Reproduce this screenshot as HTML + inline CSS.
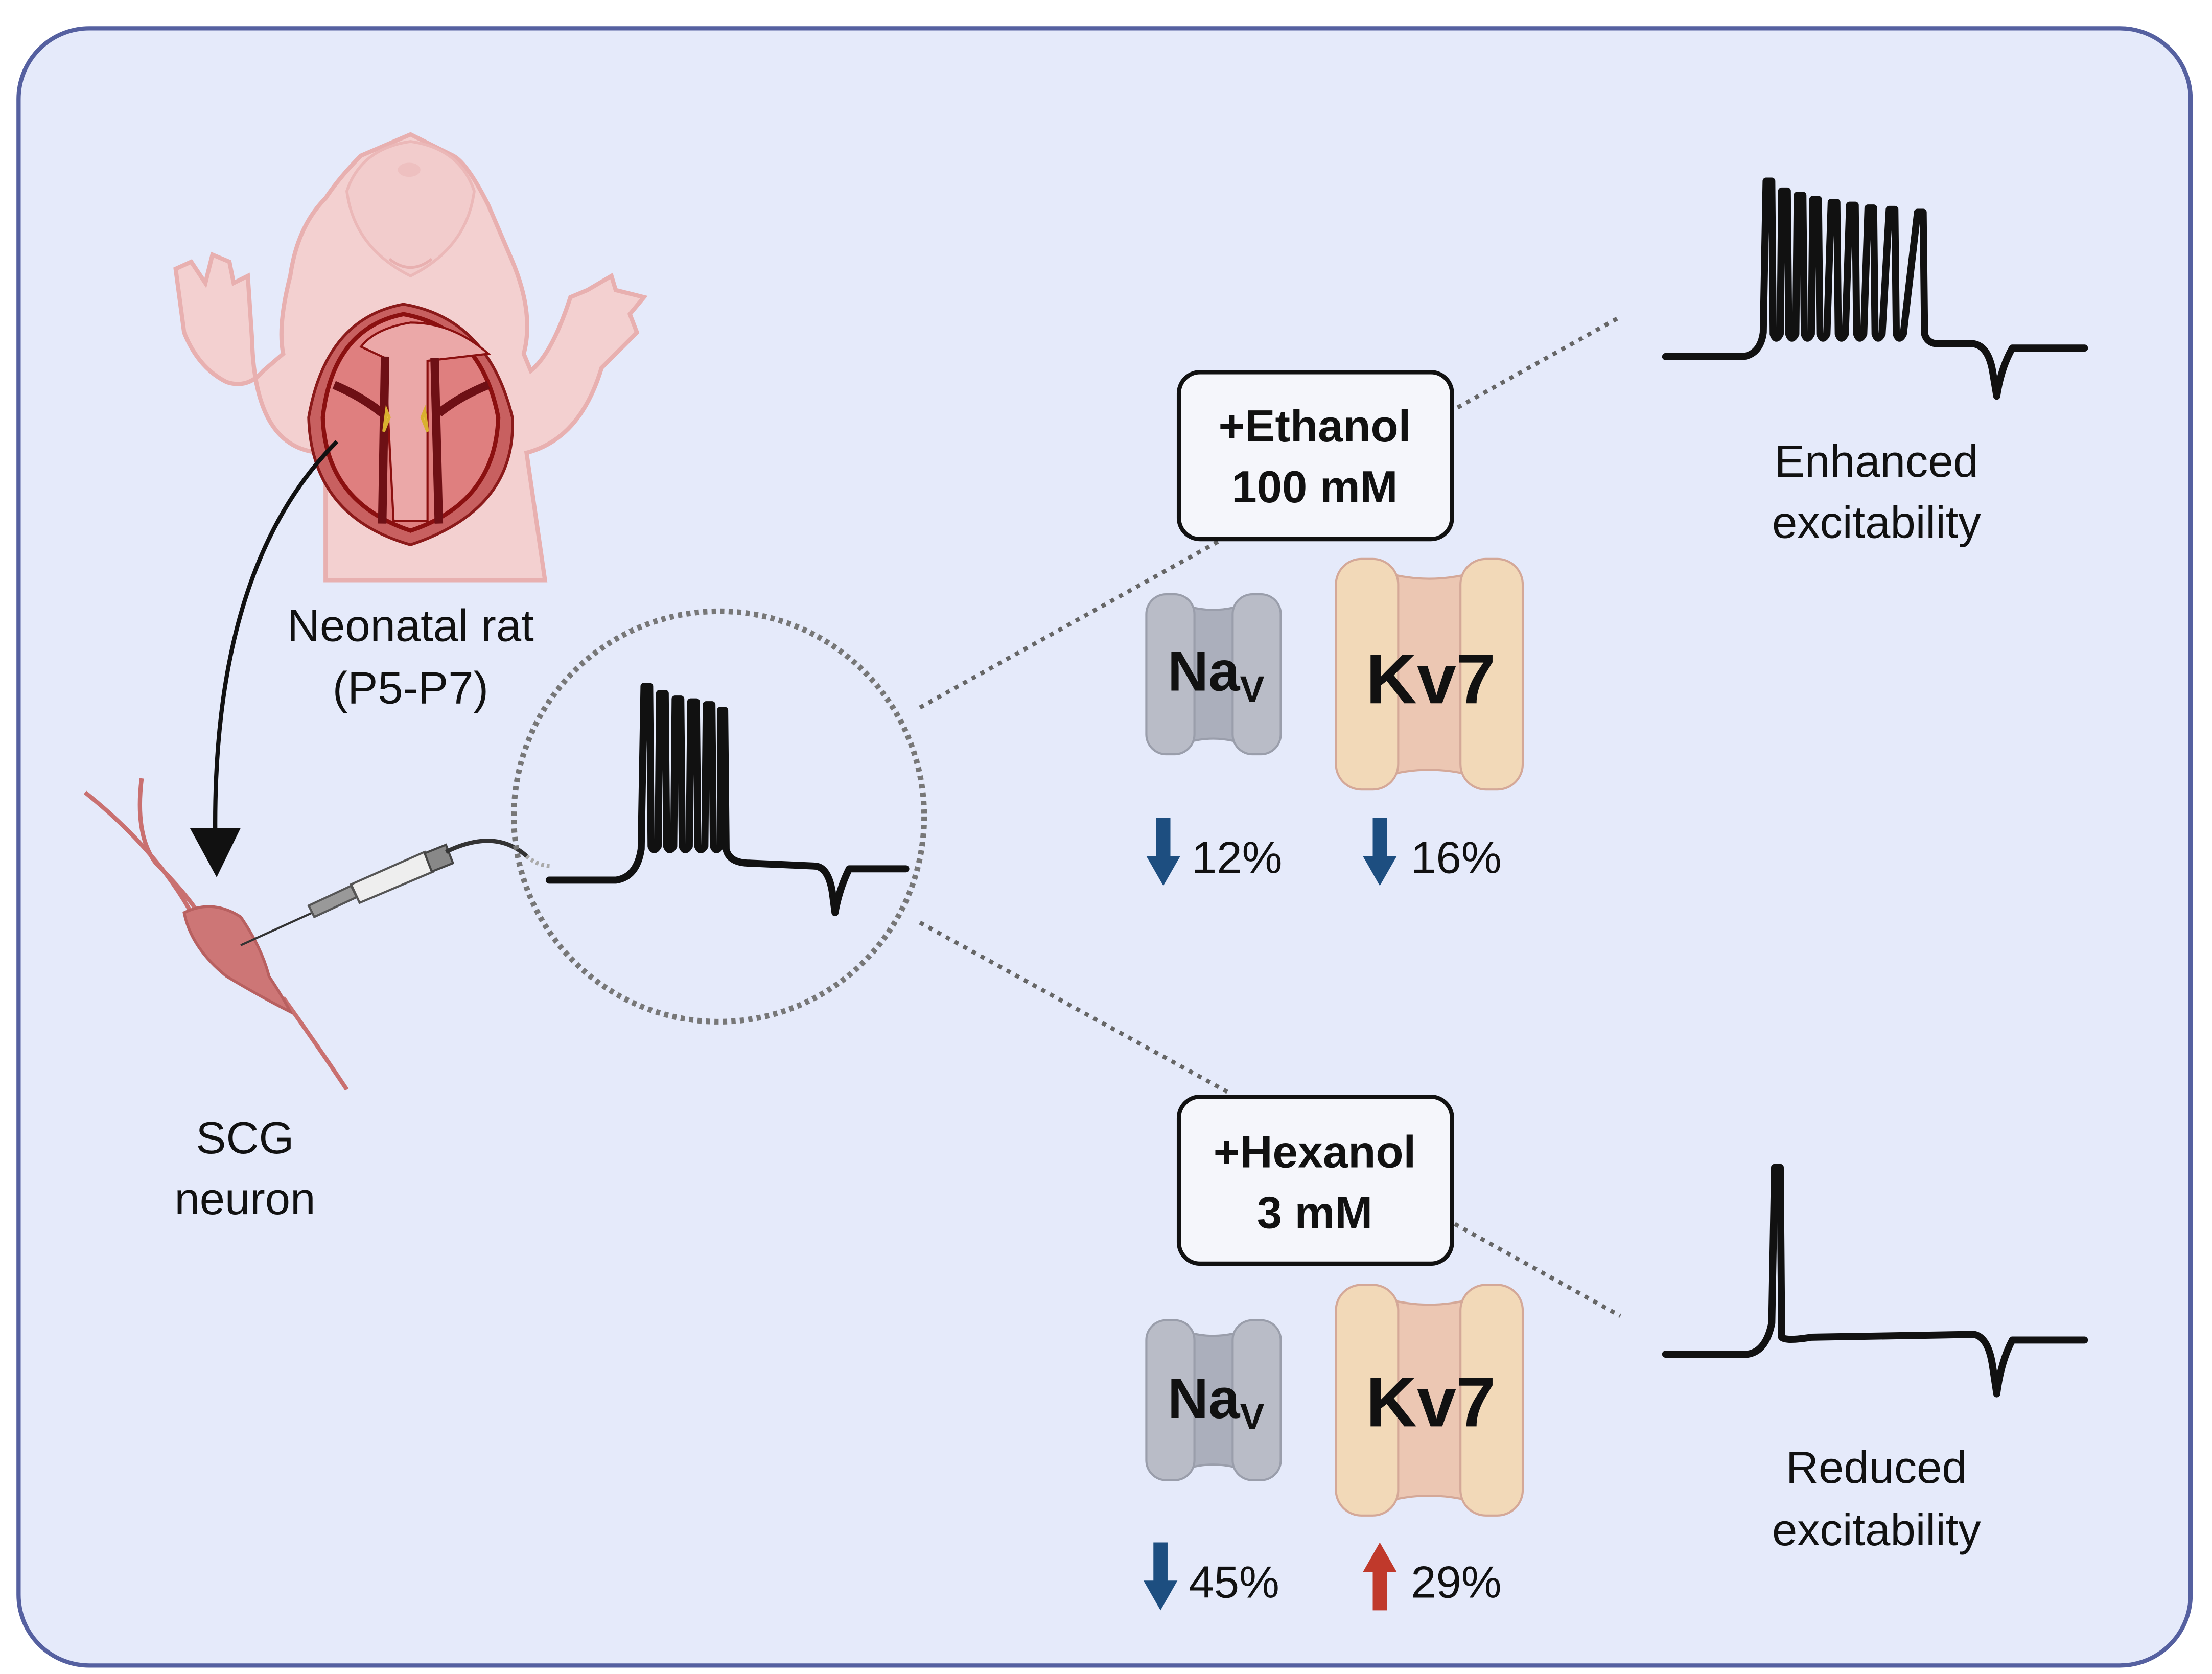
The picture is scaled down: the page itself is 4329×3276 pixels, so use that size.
<!DOCTYPE html>
<html><head><meta charset="utf-8">
<style>
html,body{margin:0;padding:0;background:#fff;}
svg{display:block;}
text{font-family:"Liberation Sans",sans-serif;}
</style></head>
<body>
<svg width="4329" height="3276" viewBox="0 0 1563 1183" xmlns="http://www.w3.org/2000/svg">
<rect x="13" y="20" width="1535" height="1157" rx="50" fill="#e5eafa" stroke="#5560a0" stroke-width="3"/>

<!-- Rat -->
<g stroke="#e8b0b0" stroke-width="3" fill="#f3d0d0">
  <path d="M130,235 L124,190 L135,185 L145,200 L150,180 L162,185 L165,200 L175,195 L178,240 Q180,320 230,320 L230,410 L385,410 L372,320 Q410,310 425,260 L450,235 L445,222 L455,210 L435,205 L432,195 L415,205 L403,210 Q390,250 375,262 L370,250 Q378,220 360,180 L345,145 Q330,115 320,110 L290,95 L255,110 Q240,125 230,140 Q210,160 205,195 Q196,230 200,250 L186,262 Q175,275 160,270 Q140,260 130,235 Z"/>
</g>
<path d="M245,135 Q255,105 290,100 Q325,105 335,135 Q330,175 290,195 Q250,175 245,135 Z" fill="#f2cccc" stroke="#ebb8b8" stroke-width="2"/>
<path d="M275,183 Q290,195 305,183" fill="none" stroke="#e8b0b0" stroke-width="2"/>
<ellipse cx="289" cy="120" rx="8" ry="5" fill="#eec0c0"/>
<!-- chest opening -->
<path d="M285,215 Q345,225 362,295 Q365,360 290,385 Q220,365 218,295 Q230,225 285,215 Z" fill="#c86060" stroke="#8b1a1a" stroke-width="2"/>
<path d="M285,222 Q340,232 352,295 Q350,355 290,375 Q230,355 228,295 Q235,232 285,222 Z" fill="#df7f7f" stroke="#8b1010" stroke-width="3"/>
<path d="M255,245 L272,253 L278,368 L302,368 L302,255 L345,250 Q320,228 290,228 Q265,232 255,245 Z" fill="#eba8a8" stroke="#8b1010" stroke-width="1.5"/>
<path d="M272,252 L270,370 M307,253 L310,370" stroke="#6e1015" stroke-width="6" fill="none"/>
<path d="M236,272 Q255,280 270,292 M345,272 Q325,280 310,292" stroke="#6e1015" stroke-width="6" fill="none"/>
<path d="M273,290 L271,305 L275,295 Z M300,290 L302,305 L298,295 Z" fill="#f5d050" stroke="#d9b030" stroke-width="2"/>

<!-- Labels -->
<g font-size="32" fill="#111" text-anchor="middle">
<text x="290" y="453">Neonatal rat</text>
<text x="290" y="497">(P5-P7)</text>
<text x="173" y="815">SCG</text>
<text x="173" y="858">neuron</text>
<text x="1326" y="337">Enhanced</text>
<text x="1326" y="380">excitability</text>
<text x="1326" y="1048">Reduced</text>
<text x="1326" y="1092">excitability</text>
</g>

<!-- curved arrow -->
<path d="M238,312 Q150,400 152,590" fill="none" stroke="#111" stroke-width="3"/>
<polygon points="134,585 170,585 153,620" fill="#111"/>

<!-- neuron -->
<g stroke="#c97070" stroke-width="3" fill="none">
<path d="M60,560 Q110,600 135,645"/>
<path d="M100,550 Q95,590 110,610 Q130,630 140,645"/>
<path d="M200,705 Q225,740 245,770"/>
</g>
<path d="M130,645 Q150,635 170,648 Q185,670 190,690 Q200,705 205,715 Q185,705 160,690 Q135,670 130,645 Z" fill="#cd7676" stroke="#b86060" stroke-width="2"/>

<!-- electrode -->
<line x1="170" y1="668" x2="225" y2="643" stroke="#333" stroke-width="1.5"/>
<polygon points="218,640 248,626 252,634 222,648" fill="#999" stroke="#555" stroke-width="1.5"/>
<polygon points="248,625 300,602 306,616 254,638" fill="#eee" stroke="#555" stroke-width="1.5"/>
<polygon points="300,603 315,597 320,610 305,616" fill="#888" stroke="#444" stroke-width="1.5"/>
<path d="M315,602 Q350,585 372,605" fill="none" stroke="#333" stroke-width="3"/>
<path d="M372,605 Q380,612 390,612" fill="none" stroke="#aaa" stroke-width="3" stroke-dasharray="2,2"/>

<!-- dotted circle -->
<circle cx="508" cy="577" r="145" fill="none" stroke="#777" stroke-width="4" stroke-dasharray="3,3"/>

<!-- dotted connectors -->
<g stroke="#666" stroke-width="3" stroke-dasharray="3,4">
<line x1="650" y1="500" x2="862" y2="382"/>
<line x1="1030" y1="288" x2="1143" y2="225"/>
<line x1="650" y1="652" x2="868" y2="772"/>
<line x1="1028" y1="865" x2="1145" y2="930"/>
</g>

<!-- traces -->
<g fill="none" stroke="#111" stroke-width="5" stroke-linejoin="round" stroke-linecap="round">
<path d="M388,622 L435,622 Q450,620 453,600 L455,485 L459,485 L460,598 Q462,603 465,598 L466,490 L470,490 L471,598 Q473,603 476,598 L477,494 L481,494 L482,598 Q484,603 487,598 L488,496 L492,496 L493,598 Q495,603 498,598 L499,498 L503,498 L504,598 Q506,603 509,598 L509,502 L512,502 L513,600 Q515,610 530,610 L575,612 Q585,612 588,630 L590,645 Q593,628 600,614 L640,614"/>
<path d="M1177,252 L1232,252 Q1244,250 1246,235 L1248,128 L1252,128 L1253,236 Q1255,242 1258,236 L1259,135 L1263,135 L1264,236 Q1266,242 1269,236 L1270,138 L1274,138 L1275,236 Q1277,242 1280,236 L1281,141 L1285,141 L1286,236 Q1288,242 1291,236 L1294,143 L1298,143 L1299,236 Q1301,242 1304,236 L1307,145 L1311,145 L1312,236 Q1314,242 1317,236 L1320,147 L1324,147 L1325,236 Q1327,242 1330,236 L1335,148 L1339,148 L1340,236 Q1342,242 1345,236 L1355,150 L1359,150 L1360,236 Q1362,243 1370,243 L1395,243 Q1405,245 1408,262 L1411,280 Q1414,260 1422,246 L1473,246"/>
<path d="M1177,957 L1235,957 Q1248,955 1252,935 L1254,825 L1258,825 L1259,945 Q1262,948 1280,945 L1395,943 Q1405,945 1408,965 L1411,985 Q1414,962 1422,947 L1473,947"/>
</g>

<!-- boxes -->
<rect x="833" y="263" width="193" height="118" rx="15" fill="#f5f6fb" stroke="#111" stroke-width="3"/>
<text x="929" y="312" font-size="32" font-weight="bold" text-anchor="middle" fill="#111">+Ethanol</text>
<text x="929" y="355" font-size="32" font-weight="bold" text-anchor="middle" fill="#111">100 mM</text>
<rect x="833" y="775" width="193" height="118" rx="15" fill="#f5f6fb" stroke="#111" stroke-width="3"/>
<text x="929" y="825" font-size="32" font-weight="bold" text-anchor="middle" fill="#111">+Hexanol</text>
<text x="929" y="868" font-size="32" font-weight="bold" text-anchor="middle" fill="#111">3 mM</text>

<!-- channel defs -->
<defs>
<g id="nav">
  <path d="M838,8 Q857,14 877,8 L877,105 Q857,99 838,105 Z" fill="#abafbc" stroke="#9a9eab" stroke-width="1.5"/>
  <rect x="810" y="0" width="34" height="113" rx="14" fill="#b9bcc7" stroke="#9a9eab" stroke-width="1.5"/>
  <rect x="871" y="0" width="34" height="113" rx="14" fill="#b9bcc7" stroke="#9a9eab" stroke-width="1.5"/>
</g>
<g id="kv">
  <path d="M980,10 Q1010,18 1040,10 L1040,153 Q1010,145 980,153 Z" fill="#ecc7b3" stroke="#d4a898" stroke-width="1.5"/>
  <rect x="944" y="0" width="44" height="163" rx="18" fill="#f2d9b8" stroke="#d4a898" stroke-width="1.5"/>
  <rect x="1032" y="0" width="44" height="163" rx="18" fill="#f2d9b8" stroke="#d4a898" stroke-width="1.5"/>
</g>
</defs>
<use href="#nav" transform="translate(0,420)"/>
<use href="#kv" transform="translate(0,395)"/>
<use href="#nav" transform="translate(0,933)"/>
<use href="#kv" transform="translate(0,908)"/>
<text x="825" y="488" font-size="40" font-weight="bold" fill="#111">Na<tspan font-size="26" dy="8">V</tspan></text>
<text x="1011" y="497" font-size="50" font-weight="bold" text-anchor="middle" fill="#111">Kv7</text>
<text x="825" y="1002" font-size="40" font-weight="bold" fill="#111">Na<tspan font-size="26" dy="8">V</tspan></text>
<text x="1011" y="1008" font-size="50" font-weight="bold" text-anchor="middle" fill="#111">Kv7</text>

<!-- arrows & percents -->
<g fill="#1d4e80">
<polygon points="817,578 827,578 827,605 834,605 822,626 810,605 817,605"/>
<polygon points="970,578 980,578 980,605 987,605 975,626 963,605 970,605"/>
<polygon points="815,1090 825,1090 825,1117 832,1117 820,1138 808,1117 815,1117"/>
</g>
<polygon points="970,1138 980,1138 980,1111 987,1111 975,1090 963,1111 970,1111" fill="#c0392b"/>
<g font-size="32" fill="#111">
<text x="842" y="617">12%</text>
<text x="997" y="617">16%</text>
<text x="840" y="1129">45%</text>
<text x="997" y="1129">29%</text>
</g>
</svg>
</body></html>
